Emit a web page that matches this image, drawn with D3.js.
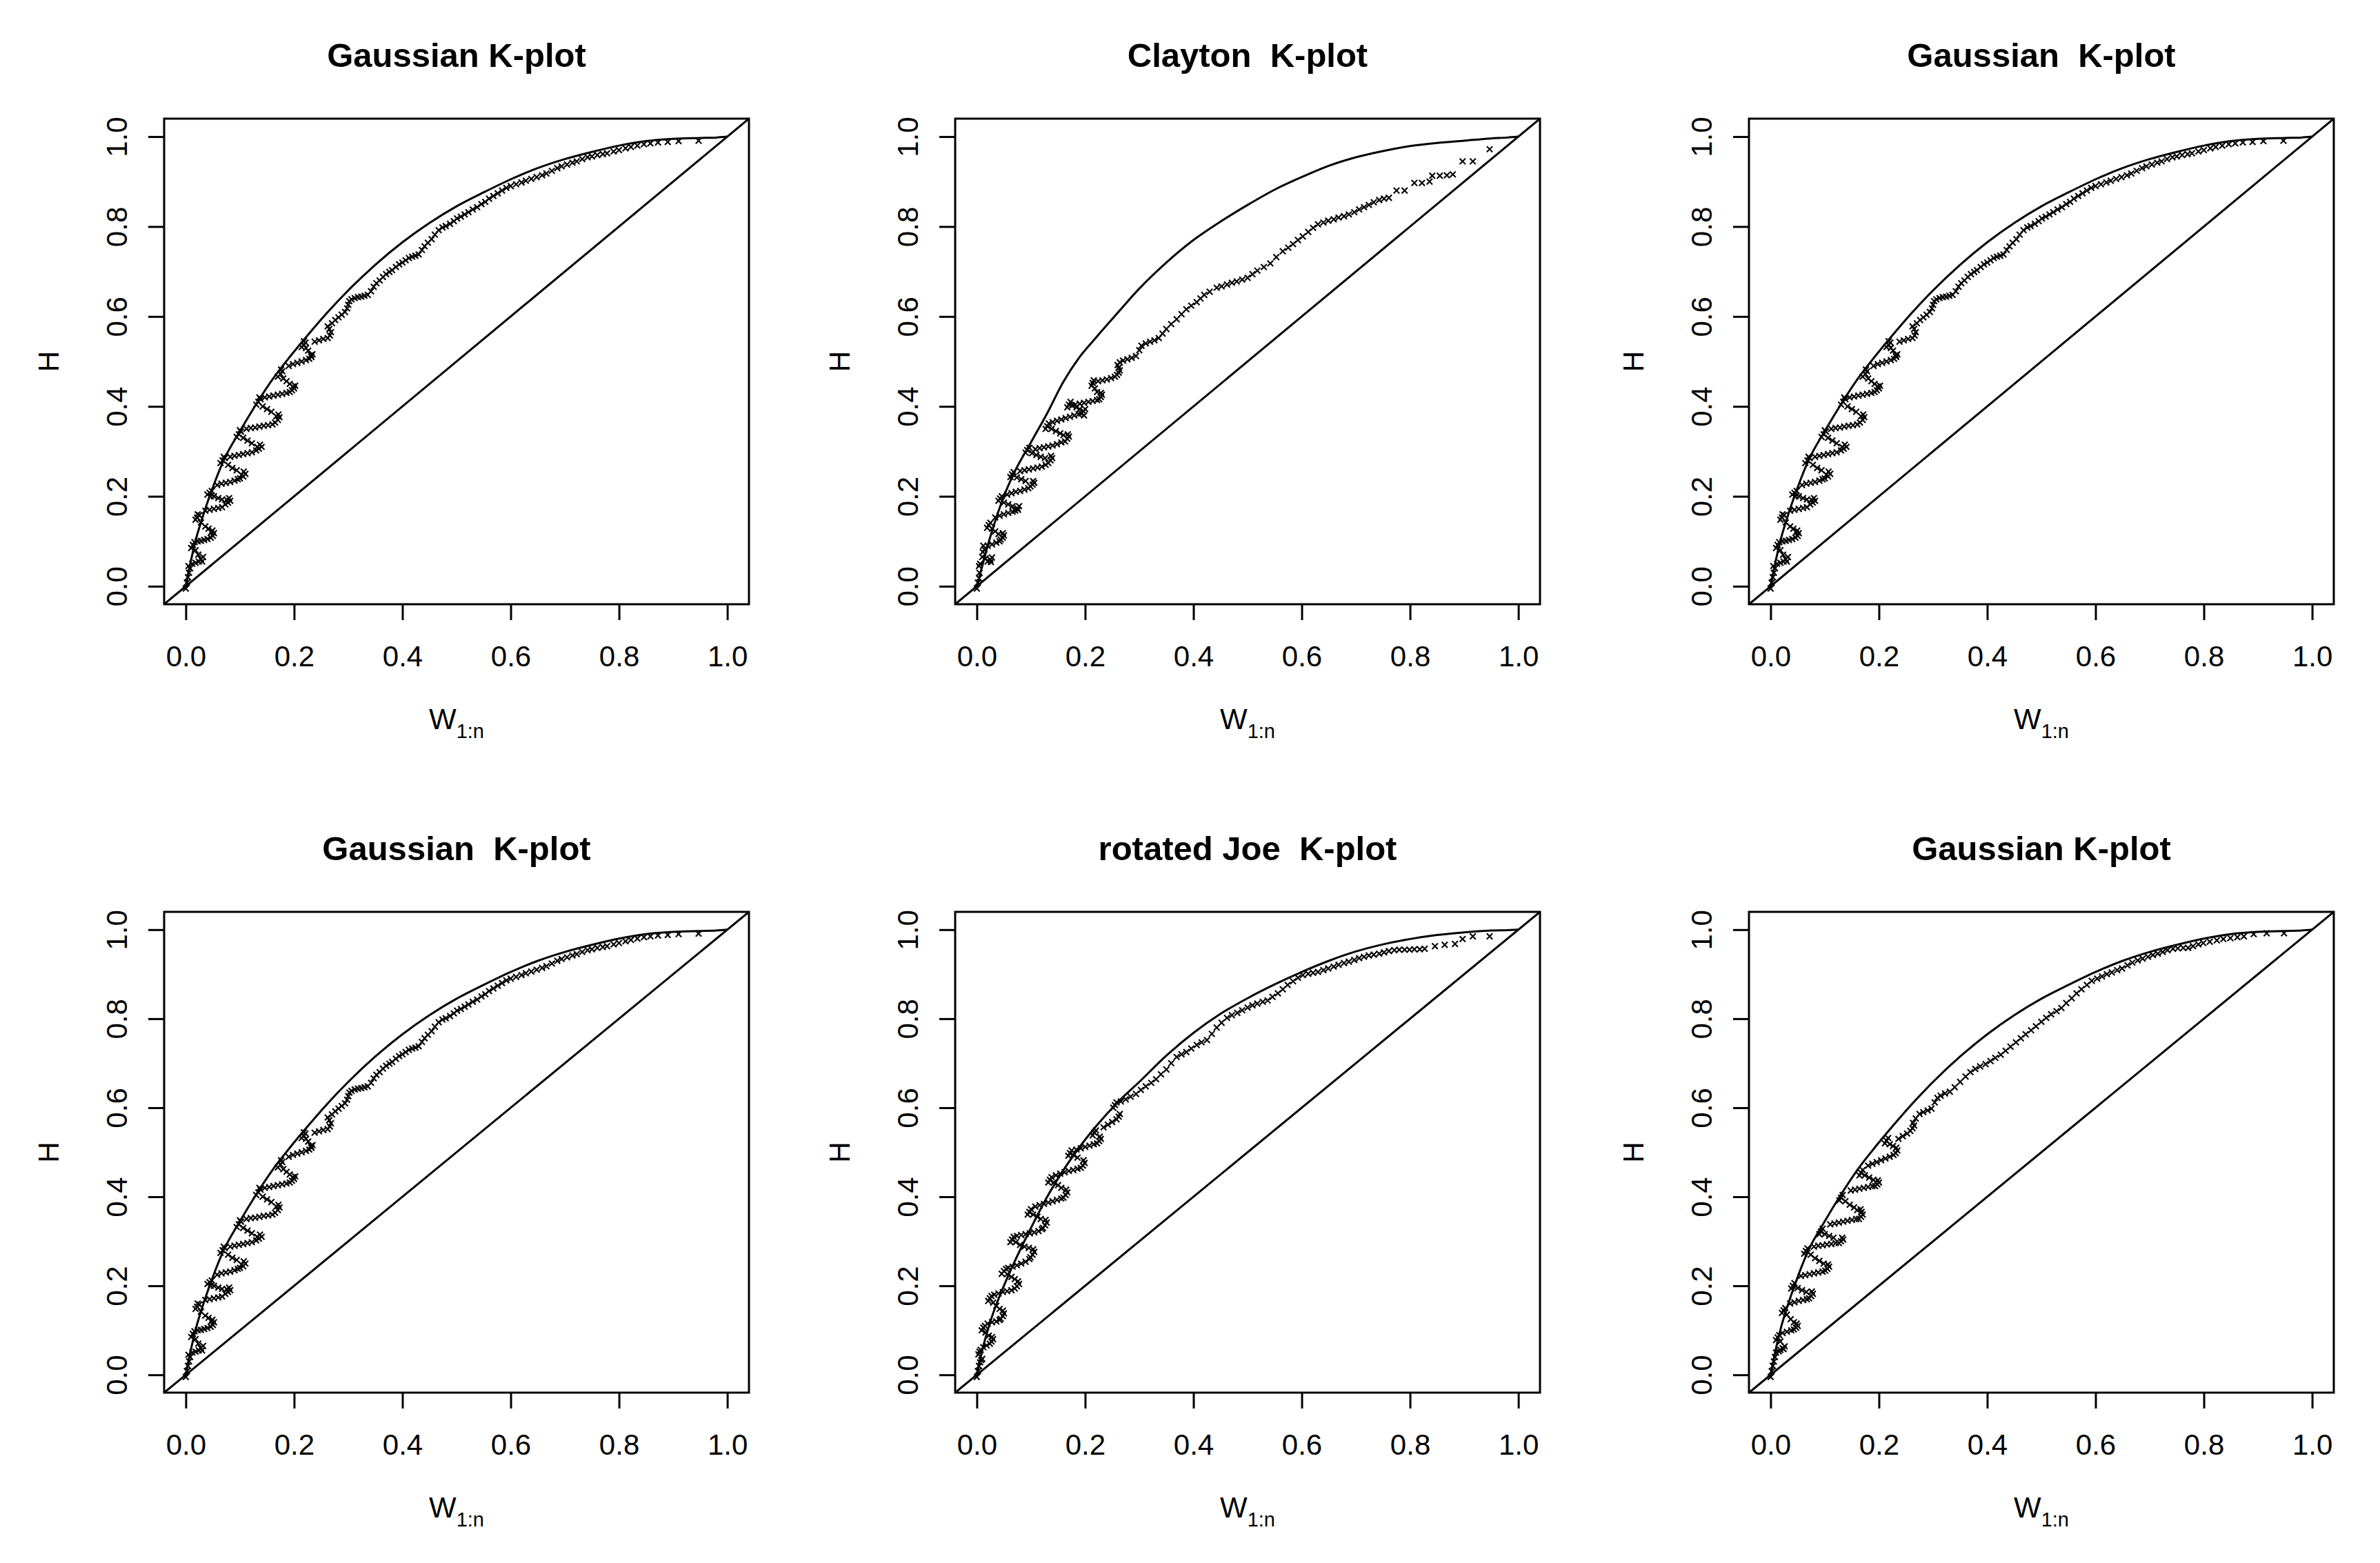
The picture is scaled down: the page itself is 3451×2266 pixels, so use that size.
<!DOCTYPE html>
<html>
<head>
<meta charset="utf-8">
<script src="https://cdn.jsdelivr.net/npm/d3@7"></script>
<style>
  body { margin: 0; background: #fff; }
</style>
</head>
<body>
<div id="chart"></div>
<script>
// K-plots, 2 x 3 panels (R style)
const titles = ["Gaussian K-plot", "Clayton  K-plot", "Gaussian  K-plot",
                "Gaussian  K-plot", "rotated Joe  K-plot", "Gaussian K-plot"];
const tickVals = [0, 0.2, 0.4, 0.6, 0.8, 1.0];

// model curves, read on a common W grid
const curveW = [0, 0.01, 0.02, 0.03, 0.05, 0.07, 0.10, 0.13, 0.16, 0.19, 0.22, 0.26, 0.30, 0.35,
                0.40, 0.45, 0.50, 0.55, 0.60, 0.65, 0.70, 0.75, 0.80, 0.85, 0.90, 0.95, 0.98, 1.00];
const gaussCurveH = [0, 0.06, 0.11, 0.15, 0.22, 0.28, 0.345, 0.405, 0.46, 0.507, 0.551, 0.607, 0.658, 0.715,
                     0.765, 0.808, 0.845, 0.876, 0.905, 0.93, 0.95, 0.966, 0.98, 0.99, 0.995, 0.997, 0.998, 1.0];
const claytonCurveH = [0, 0.045, 0.09, 0.13, 0.2, 0.255, 0.32, 0.385, 0.455, 0.51, 0.553, 0.608, 0.662, 0.72,
                       0.77, 0.811, 0.848, 0.882, 0.91, 0.935, 0.954, 0.968, 0.979, 0.986, 0.991, 0.996, 0.998, 1.0];
const joeCurveH = [0, 0.055, 0.1, 0.138, 0.2, 0.255, 0.33, 0.40, 0.46, 0.512, 0.558, 0.612, 0.658, 0.717,
                   0.768, 0.811, 0.846, 0.877, 0.905, 0.93, 0.951, 0.967, 0.979, 0.988, 0.994, 0.998, 0.999, 1.0];

// empirical points [W, H]
const gaussPts = [
  [0,-0.005],[0.002,0.008],[0.004,0.02],[0.006,0.03],[0.008,0.04],[0.005,0.045],
  [0.012,0.05],[0.018,0.052],[0.024,0.055],[0.028,0.06],[0.032,0.065],[0.03,0.055],[0.018,0.08],[0.023,0.07],[0.01,0.085],[0.013,0.092],[0.016,0.098],
  [0.022,0.1],[0.028,0.101],[0.034,0.103],[0.04,0.105],[0.046,0.108],[0.05,0.112],[0.052,0.118],[0.049,0.124],[0.047,0.12],[0.028,0.142],[0.036,0.133],[0.042,0.128],[0.018,0.148],[0.021,0.153],[0.025,0.158],[0.022,0.16],
  [0.036,0.168],[0.044,0.17],[0.052,0.172],[0.06,0.174],[0.067,0.176],[0.073,0.182],[0.078,0.186],[0.082,0.19],[0.08,0.196],[0.076,0.192],[0.052,0.2],[0.06,0.196],[0.067,0.193],[0.04,0.204],[0.044,0.208],[0.048,0.212],[0.046,0.2],
  [0.058,0.225],[0.066,0.228],[0.074,0.23],[0.082,0.232],[0.09,0.235],[0.096,0.238],[0.1,0.24],[0.106,0.244],[0.11,0.25],[0.107,0.255],[0.103,0.248],[0.078,0.27],[0.086,0.263],[0.094,0.258],[0.064,0.274],[0.068,0.28],[0.072,0.285],[0.07,0.288],
  [0.082,0.288],[0.09,0.29],[0.098,0.292],[0.106,0.294],[0.114,0.296],[0.122,0.298],[0.13,0.302],[0.135,0.306],[0.14,0.31],[0.137,0.315],[0.132,0.31],[0.106,0.33],[0.114,0.324],[0.122,0.318],[0.094,0.332],[0.098,0.338],[0.102,0.344],[0.1,0.347],
  [0.112,0.35],[0.12,0.352],[0.128,0.353],[0.136,0.355],[0.144,0.357],[0.152,0.358],[0.16,0.36],[0.165,0.364],[0.17,0.37],[0.173,0.376],[0.171,0.382],[0.167,0.378],[0.142,0.4],[0.15,0.394],[0.158,0.388],[0.13,0.404],[0.134,0.41],[0.138,0.416],[0.136,0.42],
  [0.146,0.42],[0.154,0.422],[0.162,0.424],[0.17,0.426],[0.178,0.428],[0.186,0.43],[0.192,0.432],[0.196,0.436],[0.2,0.44],[0.202,0.446],[0.198,0.444],[0.18,0.462],[0.186,0.456],[0.192,0.45],[0.17,0.466],[0.175,0.472],[0.178,0.478],[0.176,0.482],
  [0.19,0.49],[0.198,0.494],[0.206,0.497],[0.214,0.5],[0.222,0.503],[0.228,0.506],[0.232,0.51],[0.234,0.516],[0.231,0.514],[0.222,0.53],[0.226,0.524],[0.214,0.532],[0.218,0.537],[0.221,0.542],[0.218,0.545],
  [0.238,0.544],[0.246,0.547],[0.254,0.55],[0.262,0.552],[0.266,0.558],[0.268,0.565],[0.265,0.572],[0.262,0.578],
  [0.27,0.585],[0.276,0.592],[0.282,0.598],[0.288,0.604],[0.294,0.61],[0.298,0.618],[0.3,0.626],[0.302,0.634],[0.306,0.638],[0.312,0.641],[0.318,0.643],[0.324,0.644],[0.33,0.646],[0.336,0.648],
  [0.342,0.656],[0.347,0.666],[0.352,0.674],[0.358,0.68],[0.364,0.688],[0.37,0.694],[0.376,0.699],[0.381,0.703],[0.388,0.71],[0.394,0.716],[0.4,0.72],[0.406,0.725],[0.412,0.73],[0.418,0.733],
  [0.424,0.735],[0.43,0.738],[0.436,0.748],[0.441,0.756],[0.447,0.764],[0.454,0.772],[0.46,0.782],[0.467,0.792],[0.474,0.798],[0.48,0.801],[0.488,0.806],[0.495,0.812],[0.501,0.818],[0.508,0.822],
  [0.515,0.827],[0.522,0.832],[0.53,0.838],[0.538,0.843],[0.546,0.85],[0.553,0.855],[0.56,0.862],[0.568,0.868],[0.576,0.874],[0.584,0.88],[0.592,0.886],[0.6,0.89],[0.61,0.894],[0.62,0.898],
  [0.628,0.902],[0.638,0.906],[0.648,0.91],[0.658,0.914],[0.666,0.918],[0.676,0.924],[0.686,0.93],[0.694,0.934],[0.704,0.938],[0.714,0.942],[0.722,0.945],[0.732,0.95],[0.742,0.954],[0.75,0.956],
  [0.76,0.959],[0.77,0.961],[0.778,0.963],[0.79,0.967],[0.8,0.97],[0.812,0.974],[0.822,0.977],[0.834,0.98],[0.846,0.983],[0.858,0.985],[0.872,0.987],[0.89,0.988],[0.91,0.99],[0.947,0.991]
];

const claytonPts = [
  [0,-0.005],[0.002,0.008],[0.004,0.018],[0.005,0.03],[0.004,0.045],[0.006,0.05],
  [0.02,0.055],[0.025,0.059],[0.028,0.064],[0.026,0.054],[0.01,0.065],[0.016,0.062],[0.011,0.076],[0.014,0.082],[0.012,0.09],
  [0.02,0.09],[0.028,0.093],[0.036,0.097],[0.042,0.1],[0.044,0.104],[0.048,0.108],[0.05,0.113],[0.048,0.118],[0.028,0.128],[0.034,0.122],[0.04,0.116],[0.019,0.13],[0.022,0.136],[0.025,0.141],
  [0.034,0.153],[0.042,0.157],[0.05,0.16],[0.058,0.163],[0.066,0.166],[0.071,0.168],[0.075,0.173],[0.078,0.178],[0.076,0.17],[0.05,0.186],[0.058,0.182],[0.066,0.178],[0.04,0.19],[0.043,0.195],[0.046,0.2],
  [0.056,0.204],[0.064,0.207],[0.072,0.21],[0.08,0.212],[0.088,0.215],[0.095,0.218],[0.099,0.222],[0.103,0.226],[0.106,0.23],[0.104,0.234],[0.074,0.242],[0.082,0.238],[0.09,0.234],[0.062,0.243],[0.065,0.249],[0.068,0.254],
  [0.08,0.256],[0.088,0.258],[0.096,0.26],[0.104,0.262],[0.112,0.264],[0.12,0.266],[0.127,0.27],[0.132,0.274],[0.136,0.28],[0.139,0.285],[0.137,0.29],[0.102,0.296],[0.11,0.292],[0.118,0.288],[0.126,0.285],[0.09,0.297],[0.093,0.303],[0.097,0.308],
  [0.108,0.305],[0.116,0.307],[0.124,0.309],[0.132,0.311],[0.14,0.313],[0.148,0.316],[0.156,0.32],[0.163,0.322],[0.167,0.328],[0.17,0.333],[0.168,0.338],[0.138,0.35],[0.146,0.345],[0.154,0.34],[0.16,0.336],[0.127,0.35],[0.13,0.356],[0.133,0.362],
  [0.14,0.365],[0.148,0.368],[0.156,0.371],[0.164,0.374],[0.172,0.377],[0.18,0.38],[0.188,0.383],[0.193,0.384],[0.197,0.389],[0.2,0.394],[0.198,0.38],[0.176,0.402],[0.184,0.398],[0.19,0.394],[0.167,0.398],[0.17,0.404],[0.173,0.41],
  [0.182,0.404],[0.19,0.406],[0.198,0.408],[0.206,0.41],[0.214,0.412],[0.222,0.414],[0.226,0.416],[0.229,0.421],[0.231,0.426],[0.229,0.43],[0.218,0.44],[0.222,0.432],[0.212,0.446],[0.214,0.452],[0.216,0.458],
  [0.224,0.456],[0.232,0.458],[0.24,0.46],[0.248,0.463],[0.255,0.466],[0.259,0.47],[0.262,0.475],[0.264,0.48],[0.262,0.486],[0.26,0.492],[0.264,0.498],
  [0.27,0.502],[0.278,0.505],[0.286,0.508],[0.294,0.512],[0.3,0.525],[0.304,0.535],[0.312,0.54],[0.32,0.544],[0.328,0.547],[0.336,0.552],[0.343,0.562],[0.35,0.572],[0.359,0.583],[0.369,0.594],
  [0.378,0.605],[0.387,0.616],[0.396,0.624],[0.406,0.632],[0.413,0.64],[0.42,0.648],[0.43,0.655],[0.443,0.664],[0.452,0.667],[0.462,0.671],[0.471,0.675],[0.48,0.678],[0.49,0.682],[0.5,0.686],
  [0.509,0.694],[0.518,0.702],[0.53,0.71],[0.542,0.718],[0.553,0.732],[0.565,0.745],[0.575,0.753],[0.584,0.761],[0.593,0.77],[0.602,0.778],[0.612,0.788],[0.621,0.797],[0.63,0.805],[0.64,0.809],
  [0.649,0.813],[0.659,0.816],[0.668,0.82],[0.678,0.823],[0.687,0.827],[0.697,0.832],[0.706,0.838],[0.715,0.843],[0.724,0.848],[0.733,0.854],[0.743,0.859],[0.752,0.862],[0.761,0.864],
  [0.775,0.88],[0.79,0.88],[0.808,0.897],[0.822,0.897],[0.836,0.9],[0.841,0.913],[0.855,0.913],[0.868,0.914],[0.879,0.916],[0.897,0.945],[0.916,0.945],[0.947,0.972]
];

const joePts = [
  [0,-0.005],[0.002,0.008],[0.004,0.02],[0.006,0.028],[0.008,0.033],[0.01,0.036],[0.003,0.046],[0.005,0.052],[0.007,0.056],
  [0.012,0.062],[0.018,0.066],[0.024,0.07],[0.027,0.075],[0.03,0.08],[0.028,0.085],[0.016,0.095],[0.022,0.088],[0.009,0.1],[0.012,0.106],[0.015,0.11],
  [0.02,0.115],[0.028,0.118],[0.036,0.12],[0.042,0.123],[0.044,0.126],[0.048,0.132],[0.05,0.138],[0.048,0.144],[0.03,0.162],[0.036,0.155],[0.042,0.148],[0.021,0.166],[0.024,0.172],[0.027,0.177],
  [0.032,0.18],[0.04,0.183],[0.048,0.186],[0.056,0.188],[0.064,0.19],[0.07,0.194],[0.074,0.199],[0.078,0.204],[0.076,0.21],[0.056,0.226],[0.064,0.22],[0.07,0.215],[0.046,0.227],[0.05,0.233],[0.054,0.238],
  [0.058,0.24],[0.066,0.243],[0.074,0.246],[0.082,0.25],[0.09,0.254],[0.097,0.26],[0.099,0.264],[0.103,0.27],[0.106,0.276],[0.104,0.282],[0.072,0.298],[0.08,0.292],[0.088,0.288],[0.096,0.285],[0.062,0.298],[0.065,0.304],[0.068,0.31],
  [0.074,0.312],[0.082,0.314],[0.09,0.316],[0.098,0.318],[0.106,0.32],[0.114,0.323],[0.12,0.327],[0.122,0.33],[0.126,0.336],[0.129,0.342],[0.127,0.348],[0.104,0.36],[0.112,0.355],[0.118,0.35],[0.094,0.36],[0.097,0.366],[0.1,0.372],
  [0.108,0.378],[0.116,0.381],[0.124,0.384],[0.132,0.387],[0.14,0.39],[0.148,0.393],[0.156,0.396],[0.16,0.398],[0.164,0.404],[0.167,0.41],[0.165,0.416],[0.142,0.432],[0.15,0.426],[0.156,0.42],[0.132,0.432],[0.135,0.438],[0.138,0.444],
  [0.146,0.448],[0.154,0.452],[0.162,0.455],[0.17,0.458],[0.178,0.46],[0.186,0.463],[0.192,0.465],[0.196,0.47],[0.199,0.476],[0.197,0.482],[0.178,0.494],[0.186,0.488],[0.169,0.492],[0.172,0.498],[0.175,0.504],
  [0.184,0.506],[0.192,0.509],[0.2,0.512],[0.208,0.515],[0.216,0.518],[0.222,0.52],[0.226,0.525],[0.229,0.53],[0.227,0.535],[0.214,0.538],[0.217,0.544],[0.22,0.549],
  [0.234,0.556],[0.242,0.562],[0.25,0.568],[0.258,0.574],[0.262,0.58],[0.264,0.586],[0.252,0.6],[0.255,0.606],[0.258,0.612],
  [0.266,0.614],[0.275,0.619],[0.284,0.625],[0.294,0.631],[0.303,0.64],[0.312,0.648],[0.322,0.656],[0.331,0.664],[0.34,0.675],[0.35,0.686],[0.359,0.7],[0.369,0.714],[0.378,0.72],[0.387,0.725],
  [0.396,0.733],[0.406,0.741],[0.415,0.747],[0.425,0.752],[0.434,0.766],[0.443,0.78],[0.452,0.791],[0.462,0.802],[0.471,0.808],[0.481,0.813],[0.49,0.819],[0.5,0.825],[0.509,0.83],[0.518,0.834],
  [0.528,0.838],[0.537,0.841],[0.546,0.849],[0.556,0.857],[0.565,0.866],[0.574,0.876],[0.584,0.884],[0.593,0.892],[0.602,0.898],[0.612,0.901],[0.621,0.903],[0.63,0.905],[0.64,0.909],[0.649,0.913],
  [0.659,0.917],[0.668,0.921],[0.678,0.925],[0.687,0.928],[0.697,0.932],[0.706,0.936],[0.715,0.939],[0.724,0.942],[0.733,0.944],[0.743,0.946],[0.752,0.949],[0.761,0.952],[0.771,0.954],[0.78,0.955],
  [0.79,0.955],[0.799,0.955],[0.808,0.956],[0.818,0.956],[0.827,0.957],[0.846,0.963],[0.864,0.966],[0.883,0.968],[0.897,0.979],[0.916,0.985],[0.947,0.985]
];

const gauss6Pts = [
  [0,-0.005],[0.002,0.008],[0.004,0.02],[0.006,0.03],[0.008,0.04],
  [0.01,0.05],[0.015,0.053],[0.018,0.056],[0.022,0.06],[0.026,0.064],[0.024,0.058],[0.018,0.075],[0.01,0.078],[0.013,0.084],[0.016,0.089],
  [0.022,0.094],[0.03,0.097],[0.038,0.1],[0.043,0.102],[0.047,0.106],[0.05,0.11],[0.048,0.115],[0.03,0.135],[0.037,0.125],[0.043,0.118],[0.021,0.139],[0.024,0.145],[0.027,0.15],
  [0.036,0.16],[0.044,0.163],[0.052,0.166],[0.06,0.168],[0.067,0.17],[0.071,0.172],[0.075,0.177],[0.078,0.182],[0.076,0.187],[0.05,0.195],[0.058,0.19],[0.066,0.186],[0.038,0.194],[0.041,0.2],[0.044,0.206],
  [0.056,0.222],[0.064,0.224],[0.072,0.226],[0.08,0.228],[0.088,0.23],[0.096,0.232],[0.101,0.234],[0.105,0.238],[0.108,0.243],[0.106,0.248],[0.074,0.27],[0.082,0.262],[0.09,0.256],[0.098,0.25],[0.062,0.272],[0.065,0.278],[0.068,0.284],
  [0.08,0.288],[0.088,0.29],[0.096,0.291],[0.104,0.293],[0.112,0.294],[0.12,0.296],[0.126,0.296],[0.13,0.3],[0.134,0.304],[0.132,0.308],[0.1,0.316],[0.108,0.312],[0.116,0.308],[0.09,0.316],[0.093,0.322],[0.096,0.328],
  [0.11,0.338],[0.118,0.34],[0.126,0.342],[0.134,0.344],[0.142,0.346],[0.15,0.348],[0.158,0.35],[0.163,0.35],[0.167,0.355],[0.17,0.36],[0.168,0.366],[0.166,0.372],[0.138,0.39],[0.146,0.382],[0.154,0.376],[0.16,0.37],[0.127,0.392],[0.13,0.398],[0.133,0.404],
  [0.148,0.414],[0.156,0.416],[0.164,0.418],[0.172,0.42],[0.18,0.422],[0.188,0.424],[0.193,0.424],[0.197,0.428],[0.2,0.432],[0.198,0.437],[0.174,0.448],[0.182,0.443],[0.19,0.438],[0.164,0.448],[0.167,0.454],[0.17,0.46],
  [0.18,0.47],[0.188,0.474],[0.196,0.478],[0.204,0.482],[0.212,0.486],[0.22,0.49],[0.227,0.494],[0.231,0.498],[0.234,0.504],[0.232,0.51],[0.22,0.518],[0.226,0.514],[0.211,0.52],[0.214,0.526],[0.217,0.532],
  [0.236,0.53],[0.244,0.536],[0.252,0.542],[0.258,0.548],[0.262,0.554],[0.265,0.56],[0.263,0.566],
  [0.268,0.576],[0.275,0.586],[0.282,0.59],[0.29,0.594],[0.297,0.598],[0.303,0.612],[0.308,0.622],[0.314,0.627],[0.322,0.632],[0.331,0.636],[0.34,0.646],[0.35,0.658],[0.36,0.67],[0.369,0.68],
  [0.378,0.687],[0.387,0.693],[0.397,0.698],[0.406,0.705],[0.415,0.712],[0.425,0.719],[0.434,0.728],[0.443,0.737],[0.453,0.747],[0.462,0.756],[0.471,0.765],[0.481,0.774],[0.49,0.783],[0.5,0.793],
  [0.509,0.802],[0.518,0.81],[0.528,0.817],[0.537,0.824],[0.546,0.835],[0.556,0.846],[0.565,0.857],[0.574,0.866],[0.584,0.876],[0.593,0.885],[0.603,0.89],[0.612,0.895],[0.621,0.9],[0.63,0.904],
  [0.64,0.909],[0.649,0.913],[0.659,0.92],[0.668,0.926],[0.678,0.931],[0.687,0.935],[0.697,0.939],[0.706,0.943],[0.715,0.946],[0.724,0.95],[0.733,0.954],[0.743,0.957],[0.752,0.958],[0.762,0.959],
  [0.771,0.959],[0.78,0.963],[0.79,0.967],[0.799,0.97],[0.811,0.973],[0.824,0.976],[0.836,0.979],[0.849,0.981],[0.862,0.983],[0.874,0.985],[0.892,0.99],[0.916,0.992],[0.948,0.992]
];

const panelPts = [gaussPts, claytonPts, gaussPts, gaussPts, joePts, gauss6Pts];
const panelCurve = [gaussCurveH, claytonCurveH, gaussCurveH, gaussCurveH, joeCurveH, gaussCurveH];

// layout (pixels)
const width = 3451, height = 2266;
const colLeft = [238, 1385, 2536];
const boxW = 848;
const rows = [{ top: 172, bottom: 876 }, { top: 1322, bottom: 2019 }];
const font = "'Liberation Sans', Arial, Helvetica, sans-serif";
const lw = 3;

const svg = d3.select("#chart").append("svg")
    .attr("width", width)
    .attr("height", height)
    .style("display", "block")
    .style("background", "#fff");

const fmt = d3.format(".1f");
const xMark = "M-4.2,-4.2L4.2,4.2M-4.2,4.2L4.2,-4.2";

titles.forEach((title, i) => {
    const col = i % 3, row = Math.floor(i / 3);
    const left = colLeft[col], right = left + boxW;
    const top = rows[row].top, bottom = rows[row].bottom;
    const cx = (left + right) / 2, cy = (top + bottom) / 2;

    const x = d3.scaleLinear().domain([-0.04, 1.04]).range([left, right]);
    const y = d3.scaleLinear().domain([-0.04, 1.04]).range([bottom, top]);

    const g = svg.append("g");

    svg.append("clipPath").attr("id", "clip" + i)
      .append("rect")
        .attr("x", left).attr("y", top)
        .attr("width", right - left).attr("height", bottom - top);

    const plot = g.append("g").attr("clip-path", `url(#clip${i})`);

    // reference diagonal H = W
    const dom = x.domain();
    plot.append("line")
        .attr("x1", x(dom[0])).attr("y1", y(dom[0]))
        .attr("x2", x(dom[1])).attr("y2", y(dom[1]))
        .attr("stroke", "#000").attr("stroke-width", lw);

    // model curve
    const curveH = panelCurve[i];
    const line = d3.line().curve(d3.curveMonotoneX).x(d => x(d[0])).y(d => y(d[1]));
    plot.append("path")
        .datum(curveW.map((w, j) => [w, curveH[j]]))
        .attr("d", line)
        .attr("fill", "none")
        .attr("stroke", "#000")
        .attr("stroke-width", lw)
        .attr("stroke-linejoin", "round");

    // empirical points (pch = 4)
    plot.selectAll("path.pt")
        .data(panelPts[i])
        .enter()
        .append("path")
        .attr("class", "pt")
        .attr("d", xMark)
        .attr("transform", d => `translate(${x(d[0])},${y(d[1])})`)
        .attr("fill", "none")
        .attr("stroke", "#000")
        .attr("stroke-width", 2.1);

    // box
    g.append("rect")
        .attr("x", left).attr("y", top)
        .attr("width", right - left).attr("height", bottom - top)
        .attr("fill", "none").attr("stroke", "#000").attr("stroke-width", lw);

    // axes
    const xAxis = g.append("g")
        .attr("transform", `translate(0,${bottom})`)
        .call(d3.axisBottom(x).tickValues(tickVals).tickSize(23).tickSizeOuter(0).tickFormat(fmt));
    const yAxis = g.append("g")
        .attr("transform", `translate(${left},0)`)
        .call(d3.axisLeft(y).tickValues(tickVals).tickSize(23).tickSizeOuter(0).tickFormat(fmt));

    [xAxis, yAxis].forEach(a => {
        a.select(".domain").remove();
        a.selectAll(".tick line").attr("stroke", "#000").attr("stroke-width", lw);
        a.selectAll(".tick text")
            .attr("fill", "#000")
            .style("font-family", font)
            .style("font-size", "42px");
    });
    xAxis.selectAll(".tick text").attr("y", 90).attr("dy", null);
    yAxis.selectAll(".tick text")
        .attr("x", null).attr("dy", null)
        .attr("text-anchor", "middle")
        .attr("transform", "translate(-54,0) rotate(-90)");

    // title
    g.append("text")
        .attr("x", cx).attr("y", top - 75)
        .attr("text-anchor", "middle")
        .style("white-space", "pre")
        .style("font-family", font)
        .style("font-size", "49px")
        .style("font-weight", "bold")
        .text(title);

    // axis titles
    const xl = g.append("text")
        .attr("x", cx).attr("y", bottom + 181)
        .attr("text-anchor", "middle")
        .style("font-family", font)
        .style("font-size", "42px");
    xl.append("tspan").text("W");
    xl.append("tspan").attr("dy", 13).style("font-size", "29px").text("1:n");

    g.append("text")
        .attr("transform", `translate(${left - 153},${cy}) rotate(-90)`)
        .attr("text-anchor", "middle")
        .style("font-family", font)
        .style("font-size", "42px")
        .text("H");
});
</script>
</body>
</html>
